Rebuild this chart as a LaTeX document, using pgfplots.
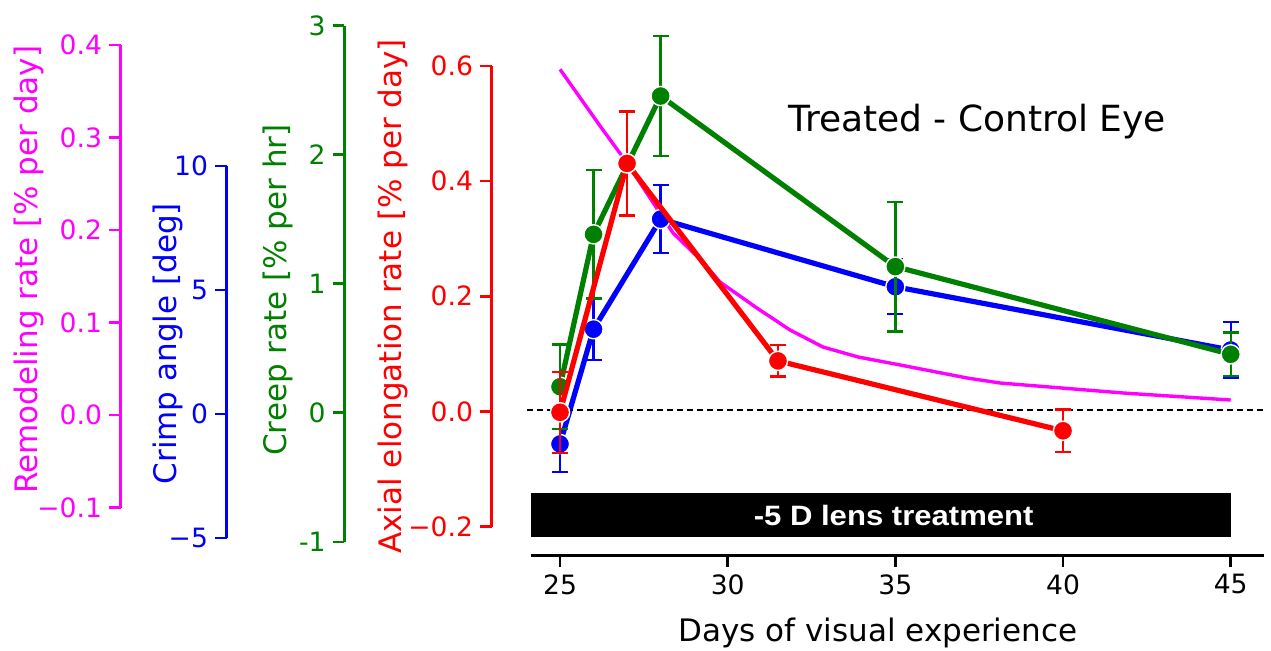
\documentclass[border=0pt]{standalone}
\usepackage{fontspec}
\setmainfont{DejaVu Sans}
\newfontfamily\barfont{Liberation Sans}[FakeStretch=1.11]
\usepackage{pgfplots}
\pgfplotsset{compat=1.18}

\definecolor{cmag}{RGB}{255,0,255}
\definecolor{cblue}{RGB}{0,0,255}
\definecolor{cgreen}{RGB}{0,128,0}
\definecolor{cred}{RGB}{255,0,0}

\newcommand\tickfont{\fontsize{13.3}{15}\selectfont}
\newcommand\labfont{\fontsize{15.5}{18}\selectfont}
\newcommand\titlefont{\fontsize{18}{21}\selectfont}

% 1 px of the reference = 0.5pt
\pgfplotsset{
  spine/.style={scale only axis, width=10pt, anchor=south west, xmin=0, xmax=1,
    hide x axis, axis y line*=left, tick align=outside,
    major tick length=5.85pt,
    axis line style={line width=1.5pt, draw=#1},
    every tick/.style={line width=1.3pt, draw=#1},
    yticklabel style={text=#1, font=\tickfont}},
  dataax/.style={scale only axis, anchor=south west, at={(265.35pt,47.25pt)},
    width=366.65pt, height=267.75pt, xmin=24.126, xmax=45.993, clip=false},
  series/.style={color=#1, line width=2.6pt, line join=round,
    mark=*, mark size=4.8pt,
    mark options={fill=#1, draw=white, line width=0.7pt},
    error bars/y dir=both, error bars/y explicit,
    error bars/error bar style={line width=1.15pt, color=#1},
    error bars/error mark options={rotate=90, mark size=4pt, line width=1.15pt, color=#1}},
}

\begin{document}
\begin{tikzpicture}
\useasboundingbox (0,0) rectangle (635.5pt,325pt);

% ---- separate y spines
\begin{axis}[spine=cmag, at={(60.35pt,71.25pt)}, height=231.25pt,
  ymin=-0.1, ymax=0.4, ytick={-0.1,0,0.1,0.2,0.3,0.4},
  yticklabels={−0.1,0.0,0.1,0.2,0.3,0.4}]
\end{axis}
\begin{axis}[spine=cblue, at={(113.35pt,56pt)}, height=186pt,
  ymin=-5, ymax=10, ytick={-5,0,5,10}, yticklabels={−5,0,5,10}]
\end{axis}
\begin{axis}[spine=cgreen, at={(172.15pt,54.1pt)}, height=258.15pt,
  ymin=-1, ymax=3, ytick={-1,0,1,2,3}, yticklabels={-1,0,1,2,3}]
\end{axis}
\begin{axis}[spine=cred, at={(245.85pt,61.65pt)}, height=230.45pt,
  ymin=-0.2, ymax=0.6, ytick={-0.2,0,0.2,0.4,0.6},
  yticklabels={−0.2,0.0,0.2,0.4,0.6}]
\end{axis}

% ---- remodeling rate (magenta)
\begin{axis}[dataax, hide axis, ymin=-0.15189, ymax=0.42703]
\addplot[cmag, line width=1.7pt, line join=round] coordinates {
(25,0.3737) (26.22,0.3112) (27.0,0.2724) (28.37,0.1968) (29.17,0.1686)
(29.77,0.1438) (30.87,0.1157) (31.86,0.0919) (32.84,0.0735) (33.89,0.0627)
(35.14,0.0541) (37.14,0.0400) (38.12,0.0346) (41.79,0.0238) (45,0.0162)
};
\end{axis}

% ---- crimp angle (blue)
\begin{axis}[dataax, hide axis, ymin=-5.70565, ymax=15.8871]
\addplot[series=cblue] coordinates {
(25,-1.21) +- (0,1.14)
(26,3.42) +- (0,1.24)
(28,7.86) +- (0,1.37)
(35,5.13) +- (0,1.11)
(45,2.58) +- (0,1.14)
};
\end{axis}

% ---- creep rate (green)
\begin{axis}[dataax, hide axis, ymin=-1.10569, ymax=3.04065]
\addplot[series=cgreen] coordinates {
(25,0.201) +- (0,0.327)
(26,1.381) +- (0,0.497)
(28,2.452) +- (0,0.465)
(35,1.131) +- (0,0.503)
(45,0.452) +- (0,0.168)
};
\end{axis}

% ---- axial elongation rate (red) and x axis
\begin{axis}[dataax, axis x line*=bottom, hide y axis,
  ymin=-0.24797, ymax=0.67931,
  xtick={25,30,35,40,45}, xticklabels={25,30,35,40,45},
  tick align=outside, major tick length=5.85pt,
  axis line style={line width=1.3pt, black},
  every tick/.style={line width=1.3pt, black},
  xticklabel style={font=\tickfont}]
\addplot[fill=black, draw=none] coordinates {
(24.126,-0.2154) (45.0,-0.2154) (45.0,-0.1389) (24.126,-0.1389)} -- cycle;
\node[text=white, font=\barfont\bfseries\fontsize{14}{16}\selectfont]
  at (axis cs:34.95,-0.1785) {-5 D lens treatment};
\addplot[black, line width=1pt, dash pattern=on 3pt off 2pt] coordinates {
(24.02,0.004) (45.96,0.004)};
\addplot[series=cred] coordinates {
(25,0.000) +- (0,0.070)
(27,0.431) +- (0,0.090)
(31.5,0.089) +- (0,0.027)
(40,-0.032) +- (0,0.037)
};
\end{axis}

% ---- titles and axis labels
\node[anchor=base, font=\titlefont] at (488.65pt,259.15pt) {Treated - Control Eye};
\node[anchor=base, font=\labfont] at (438.9pt,4.15pt) {Days of visual experience};
\node[rotate=90, font=\labfont, text=cred] at (196.5pt,176.8pt) {Axial elongation rate [\% per day]};
\node[rotate=90, font=\labfont, text=cgreen] at (138.75pt,180pt) {Creep rate [\% per hr]};
\node[rotate=90, font=\labfont, text=cblue] at (83.75pt,153.15pt) {Crimp angle [deg]};
\node[rotate=90, font=\labfont, text=cmag] at (14.5pt,190.15pt) {Remodeling rate [\% per day]};
\end{tikzpicture}
\end{document}
